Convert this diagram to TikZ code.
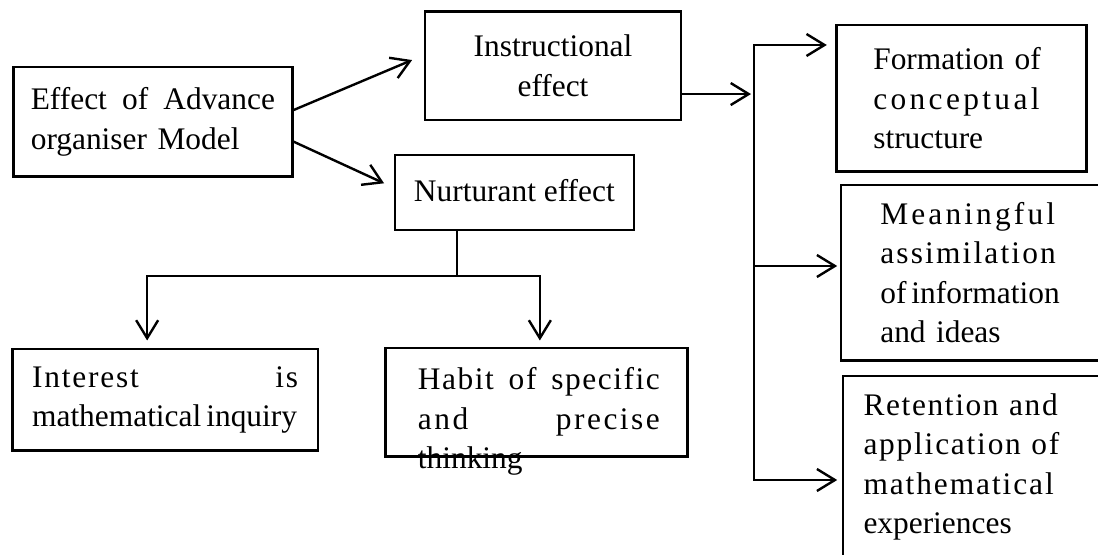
\documentclass[tikz,border=0pt]{standalone}
\usepackage{fontspec}
\setmainfont{Liberation Serif}
\usetikzlibrary{arrows.meta,calc}
% letter-spaced run of text
\newcommand\spaced[2]{{\addfontfeature{LetterSpace=#1}#2}}

\begin{document}
\begin{tikzpicture}[x=0.5pt, y=-0.5pt,
    box/.style={draw, line width=1.2pt, inner sep=0pt, align=left,
        font=\fontsize{15.7}{19.75}\selectfont},
    arr/.style={line width=1.2pt, -{Straight Barb[length=9pt, width=11pt]}},
    line/.style={line width=1.2pt}]
	% Page frame
	\useasboundingbox (0,0) rectangle (1098,555);
	\clip (0,0) rectangle (1098,555);
	
	% Model and its two effects
	\node[box, text width=122.1pt, minimum width=139.6pt, minimum height=54.7pt] (effect) at (152.9,122) {Effect\hfill of\hfill Advance\\organiser Model};
	\node[box, align=center, minimum width=128pt, minimum height=54.15pt] (instr) at (553,65.85) {Instructional\\effect};
	\node[box, align=center, text depth=2.5pt, minimum width=119.65pt, minimum height=37.5pt] (nurt) at (514.35,192.5) {Nurturant effect};
	
	% Nurturant outcomes
	\node[box, text width=133pt, minimum width=152.85pt, minimum height=50.7pt] (interest) at (165.15,400) {\spaced{5.7}{Interest\hfill is}\\mathematical\kern2.5pt inquiry};
	\node[box, minimum width=151.05pt, minimum height=54.2pt] (habit) at (536.35,402.5) {};
	\node[box, draw=none, text width=121pt, anchor=north west] (habittext) at (416.7,366.6) {\spaced{5}{Habit\hfill of\hfill specific}\\\spaced{8}{and\hfill precise}\\thinking};
	
	% Instructional outcomes
	\node[box, text width=88.25pt, minimum width=124.95pt, minimum height=73.35pt] (form) at (961.55,98.35) {Formation of\\\spaced{10.7}{conceptual}\\structure};
	\node[box, text width=95.1pt, minimum width=134.6pt, minimum height=87.75pt] (mean) at (975.4,272.75) {\spaced{10}{Meaningful}\\\spaced{6.9}{assimilation}\\of\kern2.5pt information\\and ideas};
	\node[box, text width=112.95pt, minimum width=133.55pt, minimum height=91pt] (ret) at (976.45,467) {\spaced{5.2}{Retention and}\\\spaced{5.7}{application of}\\\spaced{6.1}{mathematical}\\experiences};
	
	% Arrows from the model
	\draw[arr] ([yshift=6pt]effect.east) -- ([xshift=-5.85pt,yshift=2.9pt]instr.west);
	\draw[arr] ([yshift=-9.85pt]effect.east) -- ([xshift=-4.7pt,yshift=4.6pt]nurt.west);
	
	% Nurturant split
	\coordinate (nurtout) at ($(nurt.south)+(-57.35,0)$);
	\coordinate (split) at ($(nurtout)+(0,45)$);
	\draw[line] (nurtout) -- (split);
	\draw[arr] (split) -| ($(interest.north)+(-18,-7.6)$);
	\draw[arr] (split) -| ($(habit.north)+(3.5,-6.6)$);
	
	% Instructional bus
	\coordinate (bustop) at (754,45);
	\coordinate (busmid) at (754,266);
	\coordinate (busbot) at (754,480);
	\coordinate (instrout) at ([yshift=-14.1pt]instr.east);
	\draw[arr, shorten >=1.5pt] (instrout) -- (instrout -| bustop);
	\draw[arr, shorten >=4.3pt] (busbot) -- (bustop) -- (bustop -| form.west);
	\draw[arr, shorten >=1.2pt] (busmid) -- (busmid -| mean.west);
	\draw[arr, shorten >=2.25pt] (bustop) -- (busbot) -- (busbot -| ret.west);
	
\end{tikzpicture}
\end{document}
